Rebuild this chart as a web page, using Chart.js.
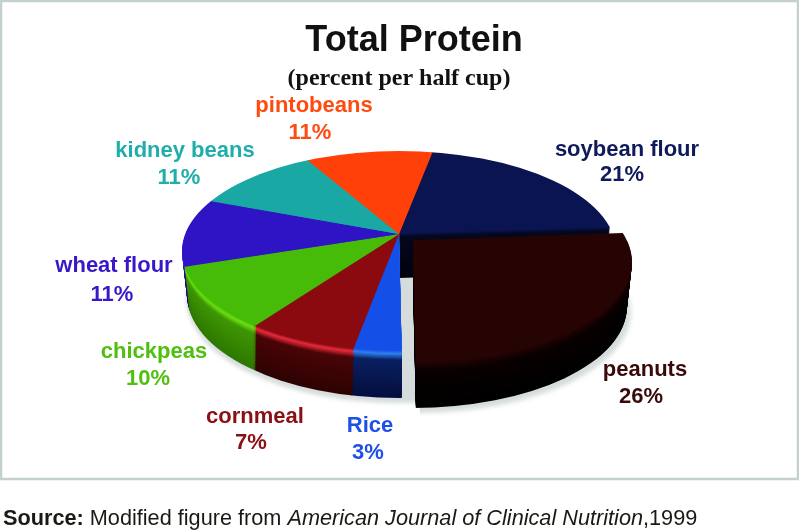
<!DOCTYPE html>
<html><head><meta charset="utf-8">
<style>html,body{margin:0;padding:0;background:#fff}canvas{display:block}</style>
<script src="https://cdn.jsdelivr.net/npm/chart.js@4"></script>
</head><body><canvas id="c" width="799" height="531"></canvas>
<script>
const categories=["soybean flour","peanuts","Rice","cornmeal","chickpeas","wheat flour","kidney beans","pintobeans"];
const percentValues=[21,26,3,7,10,11,11,11];
const faceColors=["#0a1450","#270404","#1450e8","#8a0a10","#46bc08","#2e14c4","#1aa8a4","#ff4008"];
const rimColors=["#050a20","#1a0303","#2f80f0","#e82a3c","#6adf10","#4a28f0","#1aa8a4","#ff4008"];
const wallTopColors=["#04061c","#0a0101","#0a2060","#4a0507","#3f9606","#201090","#108080","#b03000"];
const wallBottomColors=["#03040f","#000000","#050f40","#2e0303","#2f7800","#140870","#108080","#b03000"];
const textColors=["#0f1a5a","#3a0a0a","#1e50e8","#8a1015","#50c010","#3a18c8","#20aeaa","#ff4a10"];
const labelX=[627,645,370,255,154,114,185,314];
const labelY=[156,376,432,423,358,272,157,112];
const pctX=[622,641,368,251,148,112,179,310];
const pctY=[181,403,459,449,385,301,184,139];
// perspective of the disc: apex of the wedges, outline ellipse, ray projection
const apexX=399,apexY=234,ellipseY=251,ellipseRx=217,ellipseRy=100,depth=44,taper=5;
const rayWidth=214,rayHeight=97.1,perspective=0.17;
const peanutIndex=1,peanutApexX=413,peanutApexY=240,peanutEllipseY=262,peanutRx=219,peanutRy=101,peanutDepth=45;
function hex(c){return [1,3,5].map(i=>parseInt(c.substr(i,2),16));}
function mix(a,b,t){const A=hex(a),B=hex(b);return `rgb(${A.map((v,i)=>Math.round(v+(B[i]-v)*t)).join(",")})`;}
function wallColor(i,k,d){
  if(k<=3)return mix(faceColors[i],rimColors[i],k/3);
  if(k<=9)return mix(rimColors[i],wallTopColors[i],(k-3)/6);
  return mix(wallTopColors[i],wallBottomColors[i],(k-9)/(d-9));
}
function ray(a){const s=Math.sin(a),c=Math.cos(a),d=1-perspective*s;return [rayWidth*c/d,rayHeight*s/d];}
function wedgeClip(ctx,el,ax,ay,overlap){
  const a0=el.startAngle,a1=el.endAngle+overlap,steps=6;
  ctx.beginPath();ctx.moveTo(ax,ay);
  for(let n=0;n<=steps;n++){const p=ray(a0+(a1-a0)*n/steps);ctx.lineTo(ax+p[0]*1.6,ay+p[1]*1.6);}
  ctx.closePath();ctx.clip();
}
// paint the library's own arc element as a whole disc through the given transform
function paintDisc(ctx,el,color,cx,cy,rx,ry){
  const o=el.options,s=el.startAngle,e=el.endAngle,c=el.circumference;
  el.options=Object.assign({},o,{backgroundColor:color,borderWidth:0});
  el.startAngle=0;el.endAngle=Math.PI*2;el.circumference=Math.PI*2;
  ctx.save();
  ctx.translate(cx,cy);ctx.scale(rx/el.outerRadius,ry/el.outerRadius);ctx.translate(-el.x,-el.y);
  el.draw(ctx);
  ctx.restore();
  el.options=o;el.startAngle=s;el.endAngle=e;el.circumference=c;
}
function drawSlice(ctx,el,i,dy,color){
  const peanut=i===peanutIndex;
  const grow=peanut?0:dy/depth*3;
  const narrow=dy/depth*taper;
  ctx.save();
  if(peanut){
    wedgeClip(ctx,el,peanutApexX,peanutApexY+dy,0);
    paintDisc(ctx,el,color,peanutApexX,peanutEllipseY+dy,peanutRx-narrow,peanutRy);
  }else{
    wedgeClip(ctx,el,apexX,apexY+dy,0.006);
    paintDisc(ctx,el,color,apexX,ellipseY+dy,ellipseRx-narrow,ellipseRy+grow);
  }
  ctx.restore();
}
const pie3d={
  id:"pie3d",
  beforeDraw(chart){
    const ctx=chart.ctx;
    ctx.save();
    ctx.fillStyle="#fff";ctx.fillRect(0,0,799,531);
    ctx.strokeStyle="#c4cfcf";ctx.lineWidth=2.5;ctx.strokeRect(1,1,797,478);
    ctx.restore();
  },
  beforeDatasetDraw(chart,args){
    const ctx=chart.ctx,arcs=args.meta.data,shade="#d6dcdc";
    ctx.save();ctx.filter="blur(2px)";
    paintDisc(ctx,arcs[0],shade,apexX,ellipseY+depth+5,ellipseRx-taper,ellipseRy+3);
    paintDisc(ctx,arcs[0],shade,apexX,ellipseY+depth,ellipseRx-taper,ellipseRy+3);
    ctx.save();
    wedgeClip(ctx,arcs[peanutIndex],peanutApexX+4,peanutApexY+peanutDepth+5,0);
    paintDisc(ctx,arcs[peanutIndex],shade,peanutApexX+4,peanutEllipseY+peanutDepth+5,peanutRx-taper,peanutRy);
    ctx.restore();
    ctx.restore();
    for(let k=depth;k>=1;k--)arcs.forEach((el,i)=>{if(i!==peanutIndex)drawSlice(ctx,el,i,k,wallColor(i,k,depth));});
    arcs.forEach((el,i)=>{if(i!==peanutIndex)drawSlice(ctx,el,i,0,faceColors[i]);});
    for(let k=peanutDepth;k>=1;k--)drawSlice(ctx,arcs[peanutIndex],peanutIndex,k,wallColor(peanutIndex,k,peanutDepth));
    drawSlice(ctx,arcs[peanutIndex],peanutIndex,0,faceColors[peanutIndex]);
    return false;
  },
  afterDraw(chart){
    const ctx=chart.ctx;
    ctx.save();
    ctx.textBaseline="alphabetic";ctx.textAlign="center";
    ctx.fillStyle="#111";
    ctx.font='bold 36px "Liberation Sans"';ctx.fillText("Total Protein",414,51);
    ctx.font='bold 24px "Liberation Serif"';ctx.fillText("(percent per half cup)",399,85);
    ctx.font='bold 22px "Liberation Sans"';
    categories.forEach((name,i)=>{
      ctx.fillStyle=textColors[i];
      ctx.fillText(name,labelX[i],labelY[i]);
      ctx.fillText(percentValues[i]+"%",pctX[i],pctY[i]);
    });
    ctx.textAlign="left";ctx.fillStyle="#1a1a14";
    let x=3;
    [['bold 21.7px "Liberation Sans"',"Source: "],['21.7px "Liberation Sans"',"Modified figure from "],['italic 21.7px "Liberation Sans"',"American Journal of Clinical Nutrition"],['21.7px "Liberation Sans"',",1999"]].forEach(([f,t])=>{
      ctx.font=f;ctx.fillText(t,x,525);x+=ctx.measureText(t).width;
    });
    ctx.restore();
  }
};
new Chart(document.getElementById("c"),{
  type:"pie",
  data:{labels:categories,datasets:[{data:percentValues,backgroundColor:faceColors,borderWidth:0,radius:217}]},
  options:{responsive:false,animation:false,rotation:10.2,
    plugins:{legend:{display:false},tooltip:{enabled:false},title:{display:false}}},
  plugins:[pie3d]
});
</script></body></html>
